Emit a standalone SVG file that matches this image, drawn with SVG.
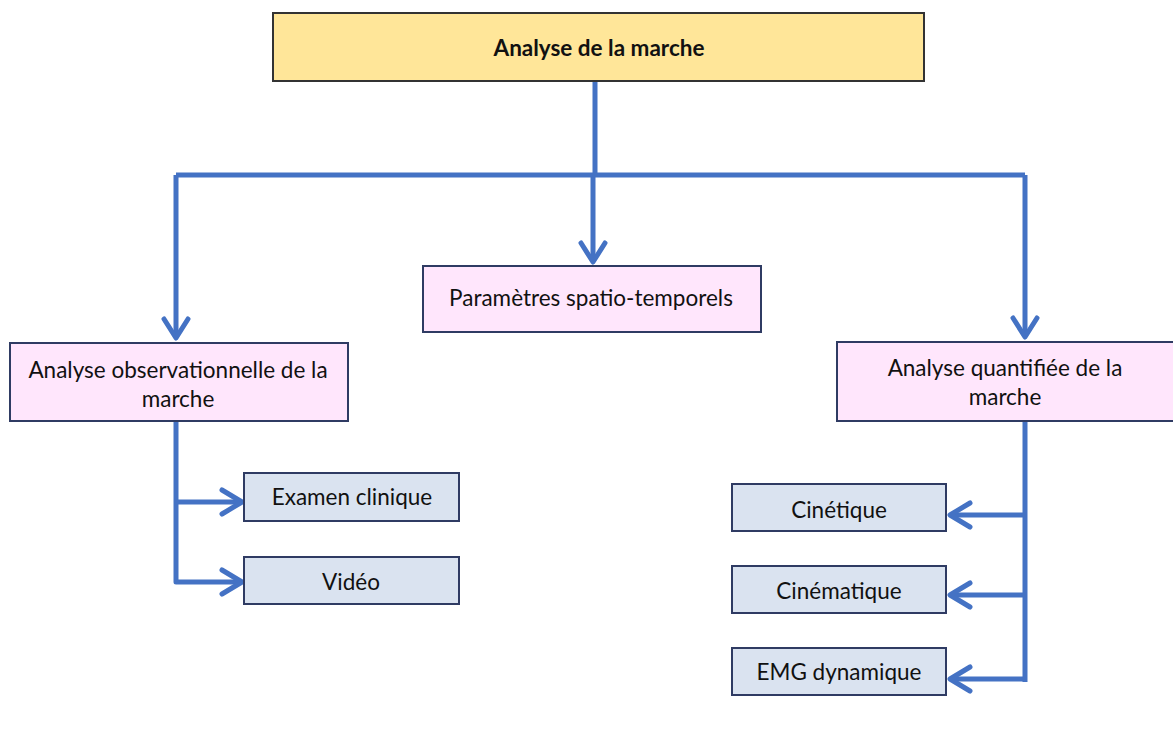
<svg xmlns="http://www.w3.org/2000/svg" width="1173" height="731" viewBox="0 0 1173 731">
<style>
.t{font-family:Lato,"Open Sans","Liberation Sans",sans-serif;font-size:22.5px;fill:#111;text-anchor:middle}
.b{font-weight:bold}
.top{fill:#FFE699;stroke:#333;stroke-width:2}
.pink{fill:#FFE6FC;stroke:#2F3B63;stroke-width:2}
.blue{fill:#DAE3F0;stroke:#2F3B63;stroke-width:2}
.c{fill:none;stroke:#4472C4;stroke-width:5;stroke-linejoin:round}
.h{fill:none;stroke:#4472C4;stroke-width:5;stroke-linecap:round;stroke-linejoin:round}
</style>
<rect width="1173" height="731" fill="#fff"/>
<g id="connectors">
<path class="c" d="M595 81V175M176 175H1025M593 175V262M176 175V338M1025 175V337"/>
<path class="h" d="M581 243L593 262L605 243M164 319L176 338L188 319M1013 318L1025 337L1037 318"/>
<path class="c" d="M176 421V582H242M176 502H242M1025 421V682M1025 515H950M1025 595H950M1025 679H950"/>
<path class="h" d="M222 490L242 502L222 514M222 570L242 582L222 594M970 503L950 515L970 527M970 583L950 595L970 607M970 667L950 679L970 691"/>
</g>
<g id="n-root"><rect class="top" x="273" y="13" width="651" height="68"/><text class="t b" x="599" y="56">Analyse de la marche</text></g>
<g id="n-spatio"><rect class="pink" x="423" y="266" width="338" height="66"/><text class="t" x="591" y="306">Paramètres spatio-temporels</text></g>
<g id="n-obs"><rect class="pink" x="10" y="343" width="338" height="78"/><text class="t" x="178" y="378">Analyse observationnelle de la</text><text class="t" x="178" y="407">marche</text></g>
<g id="n-quant"><rect class="pink" x="837" y="342" width="340" height="79"/><text class="t" x="1005" y="376">Analyse quantifiée de la</text><text class="t" x="1005" y="405">marche</text></g>
<g id="n-exam"><rect class="blue" x="244" y="473" width="215" height="48"/><text class="t" x="352" y="505">Examen clinique</text></g>
<g id="n-video"><rect class="blue" x="244" y="557" width="215" height="47"/><text class="t" x="351" y="590">Vidéo</text></g>
<g id="n-cinetique"><rect class="blue" x="732" y="484" width="214" height="47"/><text class="t" x="839" y="518">Cinétique</text></g>
<g id="n-cinematique"><rect class="blue" x="732" y="566" width="214" height="47"/><text class="t" x="839" y="599">Cinématique</text></g>
<g id="n-emg"><rect class="blue" x="732" y="648" width="214" height="47"/><text class="t" x="839" y="680">EMG dynamique</text></g>
</svg>
